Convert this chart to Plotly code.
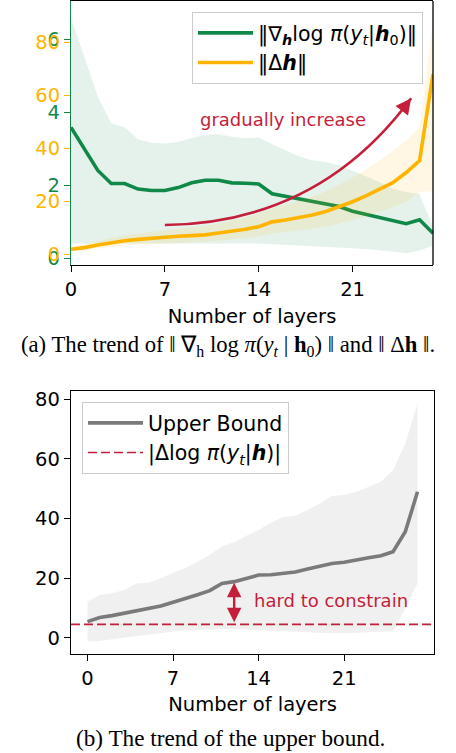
import plotly.graph_objects as go

# ---------------- data ----------------
layers = list(range(28))
x_tick_vals = [0, 7, 14, 21]

grad_mean = [3.59, 3.01, 2.41, 2.05, 2.05, 1.90, 1.86, 1.86, 1.94, 2.07, 2.14, 2.14, 2.07, 2.06,
             2.04, 1.77, 1.70, 1.64, 1.58, 1.50, 1.42, 1.29, 1.20, 1.11, 1.02, 0.95, 1.06, 0.69]
grad_upper = [6.60, 5.53, 4.43, 3.70, 3.59, 3.26, 3.17, 3.15, 3.19, 3.30, 3.38, 3.40, 3.33, 3.29,
              3.31, 3.13, 2.97, 2.80, 2.69, 2.64, 2.55, 2.41, 2.25, 2.09, 1.91, 1.82, 1.76, 0.85]
grad_lower = [0.41, 0.41, 0.41, 0.41, 0.41, 0.41, 0.41, 0.41, 0.41, 0.41, 0.41, 0.41, 0.41, 0.41,
              0.41, 0.38, 0.37, 0.35, 0.34, 0.32, 0.30, 0.28, 0.26, 0.23, 0.18, 0.14, 0.22, 0.35]

dh_mean = [2.0, 2.6, 3.6, 4.5, 5.2, 5.7, 6.2, 6.7, 6.9, 7.1, 7.4, 8.1, 8.7, 9.5,
           10.5, 12.3, 13.0, 13.9, 14.9, 16.2, 18.0, 19.9, 22.1, 24.6, 27.1, 30.9, 35.4, 68.0]
dh_upper = [2.8, 3.8, 5.0, 6.2, 7.2, 7.9, 8.6, 9.3, 9.8, 10.3, 10.8, 11.8, 12.8, 14.0,
            15.5, 17.5, 18.8, 20.2, 21.8, 23.8, 26.3, 29.0, 32.0, 35.5, 39.0, 43.0, 48.0, 88.0]
dh_lower = [1.2, 1.6, 2.3, 2.9, 3.4, 3.7, 4.0, 4.3, 4.5, 4.6, 4.8, 5.2, 5.6, 6.2,
            6.8, 8.0, 8.5, 9.0, 9.7, 10.5, 11.7, 13.0, 14.4, 16.0, 17.8, 20.0, 23.5, 24.0]

ub_mean = [5.4, 6.8, 7.4, 8.2, 9.3, 9.8, 10.6, 11.9, 13.0, 14.4, 15.8, 18.2, 18.8, 20.0,
           21.0, 21.1, 21.6, 22.0, 23.0, 24.0, 24.9, 25.3, 25.9, 26.8, 27.5, 28.8, 35.5, 48.9]
ub_upper = [12.1, 14.3, 14.9, 16.0, 18.2, 18.4, 19.9, 21.8, 23.3, 25.5, 27.7, 30.7, 32.0, 34.2,
            36.1, 38.5, 40.5, 40.9, 42.8, 45.0, 47.5, 47.8, 48.9, 50.6, 52.3, 56.2, 65.1, 78.5]
ub_lower = [-1.3, -1.1, -0.5, 0.0, 0.6, 1.0, 1.5, 2.1, 2.4, 2.6, 2.8, 2.9, 2.9, 2.8,
            2.7, 2.4, 2.2, 2.0, 1.8, 1.6, 1.5, 1.5, 1.6, 1.8, 2.0, 2.2, 9.8, 18.2]

logpi_diff = 4.5

# annotation anchors (data units)
curve_start = (7.0, 11.1)
curve_ctrl = (18.5, 11.8)
curve_end = (25.37, 58.9)
gap_layer = 12

# ---------------- style ----------------
GREEN = "rgb(16,137,72)"
ORANGE = "rgb(255,180,0)"
RED = "rgb(196,30,58)"
GRAY = "rgb(122,122,122)"
FONT = "DejaVu Sans"
W, H = 456, 753

def band(x, lo, hi, color, xa, ya):
    return go.Scatter(x=list(x) + list(x)[::-1], y=list(hi) + list(lo)[::-1],
                      fill="toself", fillcolor=color, line=dict(width=0),
                      mode="lines", hoverinfo="skip", showlegend=False,
                      xaxis=xa, yaxis=ya)

fig = go.Figure()
# top chart
fig.add_trace(band(layers, grad_lower, grad_upper, "rgba(16,137,72,0.11)", "x", "y"))
fig.add_trace(go.Scatter(x=layers, y=grad_mean, mode="lines", line=dict(color=GREEN, width=3.6),
                         name="‖∇<sub><b><i>h</i></b></sub>log <i>π</i>(<i>y<sub>t</sub></i>|<b><i>h</i></b><sub>0</sub>)‖",
                         xaxis="x", yaxis="y", legend="legend"))
fig.add_trace(band(layers, dh_lower, dh_upper, "rgba(255,180,0,0.11)", "x", "y2"))
fig.add_trace(go.Scatter(x=layers, y=dh_mean, mode="lines", line=dict(color=ORANGE, width=3.6),
                         name="‖Δ<b><i>h</i></b>‖", xaxis="x", yaxis="y2", legend="legend"))
# bottom chart
fig.add_trace(band(layers, ub_lower, ub_upper, "rgba(128,128,128,0.12)", "x2", "y3"))
fig.add_trace(go.Scatter(x=layers, y=ub_mean, mode="lines", line=dict(color=GRAY, width=3.6),
                         name="Upper Bound", xaxis="x2", yaxis="y3", legend="legend2"))

fig.add_shape(type="line", xref="x2 domain", x0=0, x1=1, yref="y3", y0=logpi_diff, y1=logpi_diff,
              line=dict(color=RED, width=1.7, dash="9px,4px"), showlegend=True, legend="legend2",
              name="|Δlog <i>π</i>(<i>y<sub>t</sub></i>|<b><i>h</i></b>)|")

# right spine of top chart
fig.add_shape(type="line", xref="x domain", x0=1, x1=1, yref="y domain", y0=0, y1=1,
              line=dict(color="black", width=1.3), layer="above")

# curved arrow
fig.add_shape(type="path", xref="x", yref="y2",
              path=f"M {curve_start[0]},{curve_start[1]} Q {curve_ctrl[0]},{curve_ctrl[1]} {curve_end[0]},{curve_end[1]}",
              line=dict(color=RED, width=2.6), layer="above")
fig.add_annotation(x=curve_end[0], y=curve_end[1], xref="x", yref="y2", ax=-6, ay=8,
                   text="", showarrow=True, arrowhead=2, arrowsize=1.3, arrowwidth=2.4,
                   arrowcolor=RED)
fig.add_annotation(x=15.8, y=51, xref="x", yref="y2", text="gradually increase",
                   showarrow=False, font=dict(family=FONT, size=18, color=RED))

# double arrow
fig.add_annotation(x=gap_layer, y=ub_mean[gap_layer] - 0.4, xref="x2", yref="y3",
                   ax=gap_layer, ay=logpi_diff + 0.2, axref="x2", ayref="y3",
                   text="", showarrow=True, arrowhead=2, startarrowhead=2, arrowside="end+start",
                   arrowsize=1.2, startarrowsize=1.2, arrowwidth=2.4, arrowcolor=RED)
fig.add_annotation(x=13.45, y=12.6, xref="x2", yref="y3", text="hard to constrain",
                   xanchor="left", showarrow=False, font=dict(family=FONT, size=18, color=RED))

# captions
fig.add_annotation(x=0.5, y=1 - 346 / H, xref="paper", yref="paper", showarrow=False,
                   xanchor="center", yanchor="middle",
                   text="(a) The trend of ‖ ∇<sub>h</sub> log <i>π</i>(<i>y<sub>t</sub></i> | <b>h</b><sub>0</sub>) ‖ and ‖ Δ<b>h</b> ‖.",
                   font=dict(family="Liberation Serif", size=22.7, color="black"))
fig.add_annotation(x=231 / W, y=1 - 738 / H, xref="paper", yref="paper", showarrow=False,
                   xanchor="center", yanchor="middle",
                   text="(b) The trend of the upper bound.",
                   font=dict(family="Liberation Serif", size=23.2, color="black"))

tickfont = dict(family=FONT, size=19.5, color="black")
fig.update_layout(
    width=W, height=H, margin=dict(l=0, r=0, t=0, b=0),
    paper_bgcolor="white", plot_bgcolor="white",
    font=dict(family=FONT, size=19.5, color="black"),
    xaxis=dict(domain=[71 / W, 433 / W], range=[0, 27], tickvals=x_tick_vals,
               ticks="outside", ticklen=6, tickwidth=1.3, tickcolor="black",
               showline=True, linecolor="black", linewidth=1.3, mirror=True,
               showgrid=False, zeroline=False, tickfont=tickfont, anchor="y",
               title=dict(text="Number of layers", font=tickfont, standoff=9), automargin=False),
    yaxis=dict(domain=[1 - 265 / H, 1 - 1 / H], range=[-0.18, 7.05], tickvals=[0, 2, 4, 6],
               ticks="outside", ticklen=6, tickwidth=1.3, tickcolor=GREEN,
               showline=True, linecolor=GREEN, linewidth=1.3,
               showgrid=False, zeroline=False, anchor="x",
               tickfont=dict(family=FONT, size=19.5, color=GREEN), automargin=False),
    yaxis2=dict(overlaying="y", side="left", range=[-3.96, 95.6], tickvals=[0, 20, 40, 60, 80],
                ticks="outside", ticklen=6, tickwidth=1.3, tickcolor=ORANGE,
                showline=False, showgrid=False, zeroline=False, anchor="x",
                tickfont=dict(family=FONT, size=19.5, color=ORANGE), automargin=False),
    xaxis2=dict(domain=[71 / W, 434 / W], range=[-1.35, 28.35], tickvals=x_tick_vals,
                ticks="outside", ticklen=6, tickwidth=1.3, tickcolor="black",
                showline=True, linecolor="black", linewidth=1.3, mirror=True,
                showgrid=False, zeroline=False, tickfont=tickfont, anchor="y3",
                title=dict(text="Number of layers", font=tickfont, standoff=8), automargin=False),
    yaxis3=dict(domain=[1 - 654 / H, 1 - 390.7 / H], range=[-5.46, 82.8], tickvals=[0, 20, 40, 60, 80],
                ticks="outside", ticklen=6, tickwidth=1.3, tickcolor="black",
                showline=True, linecolor="black", linewidth=1.3, mirror=True,
                showgrid=False, zeroline=False, anchor="x2", tickfont=tickfont, automargin=False),
    legend=dict(x=423 / W, y=1 - 12 / H, xanchor="right", yanchor="top",
                bgcolor="rgba(255,255,255,0.85)", bordercolor="#cccccc", borderwidth=1,
                font=dict(family=FONT, size=20.5, color="black"), itemwidth=55),
    legend2=dict(x=82 / W, y=1 - 402 / H, xanchor="left", yanchor="top",
                 bgcolor="rgba(255,255,255,0.85)", bordercolor="#cccccc", borderwidth=1,
                 font=dict(family=FONT, size=20.5, color="black"), itemwidth=55),
)

fig.write_html("out.html")
